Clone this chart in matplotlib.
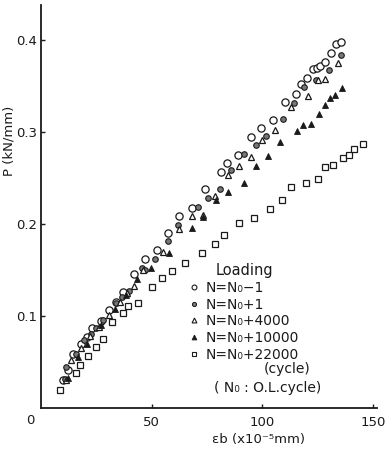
import matplotlib
matplotlib.use("Agg")
import matplotlib.pyplot as plt
from matplotlib.lines import Line2D

# N = N0 - 1  (open circles)
x_m1 = [10.0, 12.2, 14.4, 18.0, 20.7, 23.1, 27.0, 30.8, 34.0, 37.1, 42.0, 46.9,
        52.4, 57.5, 62.5, 68.0, 74.0, 81.1, 83.9, 89.2, 94.8, 99.6, 104.9, 110.4,
        115.3, 117.5, 120.4, 122.8, 124.9, 126.0, 128.3, 130.8, 133.2, 135.7]
p_m1 = [0.030, 0.041, 0.059, 0.070, 0.077, 0.087, 0.095, 0.107, 0.115, 0.126, 0.146, 0.162,
        0.172, 0.190, 0.209, 0.217, 0.238, 0.256, 0.266, 0.275, 0.294, 0.304, 0.313, 0.333,
        0.341, 0.352, 0.359, 0.368, 0.370, 0.372, 0.376, 0.386, 0.396, 0.398]

# N = N0 + 1  (hatched circles)
x_p1 = [10.7, 11.5, 15.9, 19.6, 22.5, 24.9, 27.8, 33.8, 36.7, 39.7, 45.7, 47.2,
        51.3, 57.6, 62.1, 71.0, 75.4, 80.7, 85.9, 91.8, 97.0, 101.5, 109.2, 114.1,
        118.6, 124.2, 130.2, 135.7]
p_p1 = [0.031, 0.045, 0.059, 0.074, 0.080, 0.087, 0.096, 0.114, 0.121, 0.127, 0.152, 0.150,
        0.162, 0.181, 0.199, 0.219, 0.228, 0.238, 0.259, 0.276, 0.286, 0.296, 0.314, 0.332,
        0.349, 0.357, 0.367, 0.384]

# N = N0 + 4000  (open triangles)
x_4k = [11.5, 13.7, 18.2, 22.0, 26.3, 30.8, 35.5, 39.0, 42.0, 46.1, 55.0, 62.5,
        68.2, 73.2, 78.8, 84.7, 89.6, 94.8, 100.0, 105.5, 113.0, 120.5, 125.3, 128.3, 134.2]
p_4k = [0.030, 0.052, 0.065, 0.078, 0.088, 0.101, 0.115, 0.125, 0.133, 0.150, 0.170, 0.195,
        0.209, 0.210, 0.230, 0.253, 0.263, 0.273, 0.291, 0.302, 0.327, 0.339, 0.357, 0.358, 0.375]

# N = N0 + 10000  (filled triangles)
x_10k = [12.0, 16.5, 21.0, 27.0, 33.5, 38.3, 43.2, 49.5, 57.9, 68.2, 73.2, 79.2,
         84.7, 91.5, 97.3, 102.7, 108.2, 115.5, 118.2, 122.0, 125.6, 128.3, 130.7, 133.0, 136.0]
p_10k = [0.033, 0.055, 0.070, 0.090, 0.108, 0.123, 0.140, 0.152, 0.169, 0.196, 0.208, 0.226,
         0.235, 0.244, 0.263, 0.274, 0.289, 0.301, 0.308, 0.309, 0.320, 0.329, 0.337, 0.340, 0.348]

# N = N0 + 22000  (open squares)
x_22k = [8.5, 15.8, 17.4, 21.1, 24.7, 28.1, 32.3, 37.2, 39.4, 43.9, 50.3, 54.5,
         59.4, 65.0, 72.8, 78.4, 82.9, 89.6, 96.3, 103.4, 108.9, 112.8, 119.6, 125.0,
         128.4, 132.0, 136.5, 139.0, 141.4, 145.4]
p_22k = [0.020, 0.038, 0.047, 0.057, 0.066, 0.075, 0.094, 0.103, 0.111, 0.114, 0.131, 0.141,
         0.149, 0.158, 0.169, 0.178, 0.188, 0.201, 0.206, 0.216, 0.226, 0.240, 0.245, 0.249,
         0.262, 0.264, 0.272, 0.275, 0.281, 0.287]

labels = ["N=N₀−1", "N=N₀+1", "N=N₀+4000", "N=N₀+10000", "N=N₀+22000"]

ink = "#1a1a1a"
W, H = 389, 455
fig = plt.figure(figsize=(W / 100, H / 100), dpi=100)
# x: 0 -> px 41, 150 -> px 373
ax = fig.add_axes([41 / W, 47 / H, 336 / W, 403 / H])

ax.plot(x_m1, p_m1, ls="none", marker="o", ms=5.2, mfc="white", mec=ink, mew=0.9)
ax.plot(x_p1, p_p1, ls="none", marker="o", ms=4.0, mfc="#777777", mec=ink, mew=0.8)
ax.plot(x_4k, p_4k, ls="none", marker="^", ms=5.0, mfc="white", mec=ink, mew=0.9)
ax.plot(x_10k, p_10k, ls="none", marker="^", ms=4.6, mfc=ink, mec=ink, mew=0.6)
ax.plot(x_22k, p_22k, ls="none", marker="s", ms=4.6, mfc="white", mec=ink, mew=0.9)

ax.set_xlim(0, 151.8)
ax.set_ylim(0, 0.438)
ax.set_xticks([50, 100, 150])
ax.set_xticklabels(["50", "100", "150"])
ax.set_yticks([0.1, 0.2, 0.3, 0.4])
ax.set_yticklabels(["0.1", "0.2", "0.3", "0.4"])
ax.tick_params(direction="in", length=3, width=1, colors=ink, labelsize=9.5)
ax.tick_params(axis="y", pad=3)
ax.tick_params(axis="x", pad=6)
for s in ["top", "right"]:
    ax.spines[s].set_visible(False)
for s in ["left", "bottom"]:
    ax.spines[s].set_linewidth(1.3)
    ax.spines[s].set_color(ink)

fig.text(30 / W, 1 - 421 / H, "0", fontsize=9.5, color=ink, ha="center", va="center")
fig.text(9 / W, 1 - 141 / H, "P (kN/mm)", fontsize=9.5, color=ink, rotation=90,
         ha="center", va="center")
fig.text(258 / W, 1 - 440 / H, "εb (x10⁻⁵mm)", fontsize=9.5, color=ink,
         ha="center", va="center")

handles = [
    Line2D([], [], ls="none", marker="o", ms=3.5, mfc="white", mec=ink, mew=0.8),
    Line2D([], [], ls="none", marker="o", ms=3.0, mfc="#777777", mec=ink, mew=0.7),
    Line2D([], [], ls="none", marker="^", ms=3.5, mfc="white", mec=ink, mew=0.8),
    Line2D([], [], ls="none", marker="^", ms=3.5, mfc=ink, mec=ink, mew=0.6),
    Line2D([], [], ls="none", marker="s", ms=3.3, mfc="white", mec=ink, mew=0.8),
]
leg = fig.legend(handles, labels, title="Loading", loc="upper left",
                 bbox_to_anchor=(190 / W, 1 - 263 / H), frameon=False,
                 fontsize=10, title_fontsize=10.5, handlelength=0.6,
                 handletextpad=0.5, labelspacing=0.2, borderaxespad=0,
                 borderpad=0)
for t in leg.get_texts():
    t.set_color(ink)
leg.get_title().set_color(ink)

fig.text(287 / W, 1 - 362 / H, "(cycle)", fontsize=10, color=ink, ha="center", va="top")
fig.text(268 / W, 1 - 388 / H, "( N₀ : O.L.cycle)", fontsize=10, color=ink,
         ha="center", va="center")

fig.savefig("out.png", dpi=100, facecolor="white")
